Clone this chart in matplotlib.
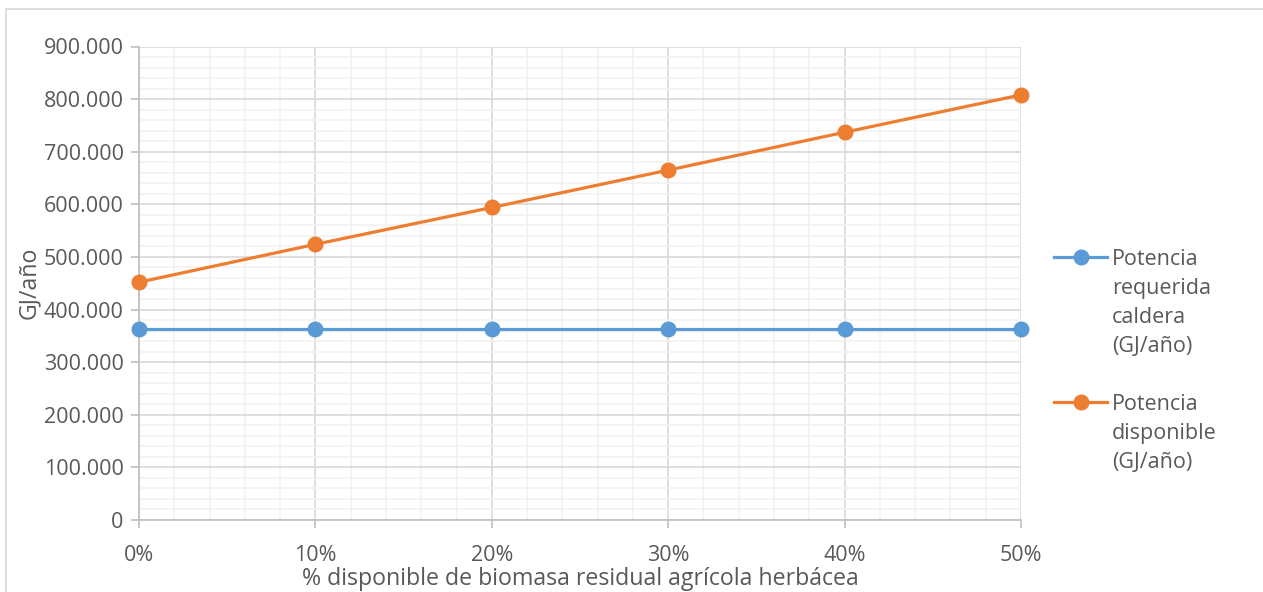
import numpy as np
import matplotlib.pyplot as plt
from matplotlib.ticker import FuncFormatter, MultipleLocator
from matplotlib.patches import Rectangle
from matplotlib.lines import Line2D

# datos
porcentaje = [0, 10, 20, 30, 40, 50]
potencia_requerida = [362600, 362600, 362600, 362600, 362600, 362600]
potencia_disponible = [452000, 524000, 594000, 665000, 737000, 808000]
etiqueta_req = 'Potencia\nrequerida\ncaldera\n(GJ/año)'
etiqueta_disp = 'Potencia\ndisponible\n(GJ/año)'

azul = '#5B9BD5'
naranja = '#ED7D31'
gris_txt = '#595959'

plt.rcParams['font.family'] = ['Open Sans', 'DejaVu Sans']

W, H = 1263, 592
fig = plt.figure(figsize=(12.63, 5.92), dpi=100)
ax = fig.add_axes([139/W, 1 - 520/H, (1021-139)/W, (520-46.5)/H])

# marco del grafico
fig.patches.append(Rectangle((6/W, -0.1), 1.2, 1 - 9/H + 0.1,
                             transform=fig.transFigure, fill=False,
                             edgecolor='#D9D9D9', linewidth=1.2))

ax.plot(porcentaje, potencia_requerida, color=azul, lw=2.3, marker='o',
        ms=10.5, zorder=3, clip_on=False)
ax.plot(porcentaje, potencia_disponible, color=naranja, lw=2.3, marker='o',
        ms=10.5, zorder=3, clip_on=False)

ax.set_xlim(0, 50)
ax.set_ylim(0, 900000)
ax.xaxis.set_major_locator(MultipleLocator(10))
ax.xaxis.set_minor_locator(MultipleLocator(2))
ax.yaxis.set_major_locator(MultipleLocator(100000))
ax.yaxis.set_minor_locator(MultipleLocator(20000))
ax.xaxis.set_major_formatter(FuncFormatter(lambda v, p: '%d%%' % v))
ax.yaxis.set_major_formatter(FuncFormatter(lambda v, p: '{:,.0f}'.format(v).replace(',', '.')))

ax.grid(which='minor', color='#F2F2F2', lw=1.2, zorder=0)
ax.grid(which='major', color='#D9D9D9', lw=1.2, zorder=1)
ax.set_axisbelow(True)

for s in ['top', 'right']:
    ax.spines[s].set_visible(False)
for s in ['left', 'bottom']:
    ax.spines[s].set_color('#BFBFBF')
    ax.spines[s].set_linewidth(1.2)

ax.tick_params(which='major', length=6, color='#BFBFBF', width=1.2,
               labelsize=15.5, labelcolor=gris_txt)
ax.tick_params(axis='x', pad=12)
ax.tick_params(axis='y', pad=5)
ax.tick_params(which='minor', length=0)

ax.set_xlabel('% disponible de biomasa residual agrícola herbácea',
              fontsize=16.7, color=gris_txt, labelpad=1)
ax.set_ylabel('GJ/año', fontsize=16.7, color=gris_txt, labelpad=2)

# leyenda a mano (marcador alineado con la primera linea, como Excel)
entradas = [(azul, etiqueta_req, 257), (naranja, etiqueta_disp, 402)]
for color, texto, y in entradas:
    yf = 1 - y / H
    fig.add_artist(Line2D([1054/W, 1107/W], [yf, yf], color=color, lw=2.3,
                          transform=fig.transFigure))
    fig.add_artist(Line2D([1080.5/W], [yf], color=color, marker='o', ms=10.5,
                          transform=fig.transFigure))
    fig.text(1112/W, 1 - (y - 8) / H, texto, fontsize=15.5, color=gris_txt,
             va='top', ha='left', linespacing=1.5)

fig.savefig('out.png', dpi=100)
